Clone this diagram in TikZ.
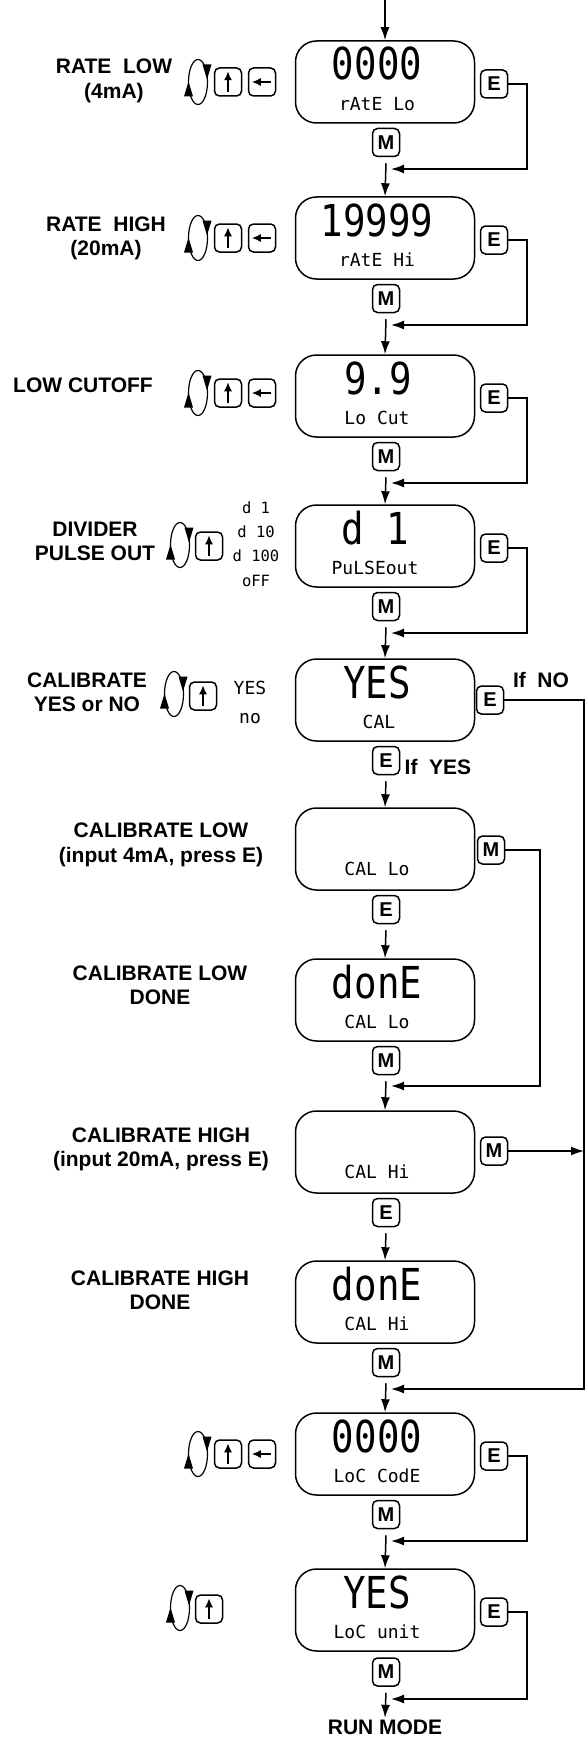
\documentclass[tikz,border=0pt]{standalone}
\usepackage{fontspec}
\setmainfont{Liberation Sans}
\newfontfamily\lcdfont{DejaVu Sans Mono}
\newfontfamily\lcdbigfont{DejaVu Sans Mono}[FakeStretch=0.85]
\usetikzlibrary{arrows.meta}

\begin{document}
\begin{tikzpicture}[x=1pt, y=-1pt, line width=1.5pt,
  >={Latex[length=13pt,width=9pt]},
  display/.style={draw, rounded corners=21pt, minimum width=179pt, minimum height=82pt, inner sep=0pt},
  bigtxt/.style={font=\lcdbigfont\fontsize{44}{44}\selectfont, inner sep=0pt, text height=32pt, text depth=0pt},
  smalltxt/.style={font=\lcdfont\fontsize{18}{18}\selectfont, inner sep=0pt, text height=13pt, text depth=0pt},
  opttxt/.style={font=\lcdfont\fontsize{15.5}{15.5}\selectfont, inner sep=0pt, text height=11pt, text depth=0pt},
  key/.style={draw, line width=1.5pt, rounded corners=5pt, minimum width=27pt, minimum height=28pt, inner sep=0pt, font=\bfseries\fontsize{20}{20}\selectfont},
  lbl/.style={font=\bfseries\fontsize{21}{24.5}\selectfont, align=center, inner sep=0pt},
  keyarrow/.style={line width=1.6pt, -{Latex[length=9pt,width=8pt]}},
  loopsym/.pic={
    \draw[line width=1.2pt] (0,0) ellipse [x radius=9.5pt, y radius=22.5pt];
    \fill (4.5,-17.5) -- (13.5,-17.5) -- (9,-2.5) -- cycle;
    \fill (-14,14.5) -- (-5,14.5) -- (-9.5,-0.5) -- cycle;
  }
]
  \useasboundingbox (0,0) rectangle (586,1739);

  % Rate low
  \node[lbl] (l1) at (114,81) {RATE~~LOW\\(4mA)};
  \pic at (198,82) {loopsym};
  \node[key] (u1) at (228,82) {};
  \draw[keyarrow] ([yshift=5pt]u1.south) -- ([yshift=-4pt]u1.north);
  \node[key] (b1) at (262,82) {};
  \draw[keyarrow] ([xshift=-5pt]b1.east) -- ([xshift=4pt]b1.west);
  \node[display] (d1) at (385,82) {};
  \node[bigtxt] (v1) at (377,64) {0000};
  \node[smalltxt] (t1) at (377,104) {rAtE Lo};
  \node[key] (e1) at (494,84) {E};
  \node[key] (m1) at (386,142.5) {M};
  \coordinate (start) at (385,0);
  \draw[->] (start) -- (d1.north);
  \coordinate (j1) at (527,169);
  \coordinate (r1) at (391,169);
  \draw[->] (e1.east) -| (j1) -- (r1);

  % Rate high
  \node[lbl] (l2) at (106,238.5) {RATE~~HIGH\\(20mA)};
  \pic at (198,238) {loopsym};
  \node[key] (u2) at (228,238) {};
  \draw[keyarrow] ([yshift=5pt]u2.south) -- ([yshift=-4pt]u2.north);
  \node[key] (b2) at (262,238) {};
  \draw[keyarrow] ([xshift=-5pt]b2.east) -- ([xshift=4pt]b2.west);
  \node[display] (d2) at (385,238) {};
  \node[bigtxt] (v2) at (377,220) {19999};
  \node[smalltxt] (t2) at (377,260) {rAtE Hi};
  \node[key] (e2) at (494,240) {E};
  \node[key] (m2) at (386,298.5) {M};
  \draw[->] ([yshift=-6pt]m1.south) -- (d2.north);
  \coordinate (j2) at (527,325);
  \coordinate (r2) at (391,325);
  \draw[->] (e2.east) -| (j2) -- (r2);

  % Low cutoff
  \node[lbl] (l3) at (83,385) {LOW CUTOFF};
  \pic at (198,393) {loopsym};
  \node[key] (u3) at (228,393) {};
  \draw[keyarrow] ([yshift=5pt]u3.south) -- ([yshift=-4pt]u3.north);
  \node[key] (b3) at (262,393) {};
  \draw[keyarrow] ([xshift=-5pt]b3.east) -- ([xshift=4pt]b3.west);
  \node[display] (d3) at (385,396) {};
  \node[bigtxt] (v3) at (378,378) {9.9};
  \node[smalltxt] (t3) at (377,418) {Lo Cut};
  \node[key] (e3) at (494,398) {E};
  \node[key] (m3) at (386,456.5) {M};
  \draw[->] ([yshift=-6pt]m2.south) -- (d3.north);
  \coordinate (j3) at (527,483);
  \coordinate (r3) at (391,483);
  \draw[->] (e3.east) -| (j3) -- (r3);

  % Divider pulse out
  \node[lbl] (l4) at (95,541.5) {DIVIDER\\PULSE OUT};
  \pic at (180,545) {loopsym};
  \node[key] (u4) at (209,546) {};
  \draw[keyarrow] ([yshift=5pt]u4.south) -- ([yshift=-4pt]u4.north);
  \node[opttxt] (o1) at (256,508) {d 1};
  \node[opttxt] (o2) at (256,532) {d 10};
  \node[opttxt] (o3) at (256,556) {d 100};
  \node[opttxt] (o4) at (256,581) {oFF};
  \node[display] (d4) at (385,546) {};
  \node[bigtxt] (v4) at (375,528) {d 1};
  \node[smalltxt] (t4) at (375,568) {PuLSEout};
  \node[key] (e4) at (494,548) {E};
  \node[key] (m4) at (386,606.5) {M};
  \draw[->] ([yshift=-6pt]m3.south) -- (d4.north);
  \coordinate (j4) at (527,633);
  \coordinate (r4) at (391,633);
  \draw[->] (e4.east) -| (j4) -- (r4);

  % Calibrate yes or no
  \node[lbl] (l5) at (87,692.5) {CALIBRATE\\YES or NO};
  \pic at (174,694) {loopsym};
  \node[key] (u5) at (203,696) {};
  \draw[keyarrow] ([yshift=5pt]u5.south) -- ([yshift=-4pt]u5.north);
  \node[smalltxt] (y5) at (250,688) {YES};
  \node[smalltxt] (n5) at (250,717) {no};
  \node[display] (d5) at (385,700) {};
  \node[bigtxt] (v5) at (377,682) {YES};
  \node[smalltxt] (t5) at (379,722) {CAL};
  \node[key] (e5) at (490,700) {E};
  \node[lbl] (no5) at (541,680) {If~~NO};
  \node[key] (k5) at (386,760.5) {E};
  \node[lbl] (yes5) at (438,767) {If~~YES};
  \draw[->] ([yshift=-6pt]m4.south) -- (d5.north);

  % Calibrate low
  \node[lbl] (l6) at (161,845) {CALIBRATE LOW\\(input 4mA, press E)};
  \node[display] (d6) at (385,849) {};
  \node[smalltxt] (t6) at (377,869) {CAL Lo};
  \node[key] (m6) at (491,850) {M};
  \node[key] (k6) at (386,909.5) {E};
  \draw[->] ([yshift=-6pt]k5.south) -- (d6.north);

  % Calibrate low done
  \node[lbl] (l7) at (160,985.5) {CALIBRATE LOW\\DONE};
  \node[display] (d7) at (385,1000) {};
  \node[bigtxt] (v7) at (377,982) {donE};
  \node[smalltxt] (t7) at (377,1022) {CAL Lo};
  \node[key] (m7) at (386,1060.5) {M};
  \draw[->] ([yshift=-6pt]k6.south) -- (d7.north);
  \coordinate (j6) at (540,1086);
  \coordinate (r6) at (391,1086);
  \draw[->] (m6.east) -| (j6) -- (r6);

  % Calibrate high
  \node[lbl] (l8) at (161,1149.5) {CALIBRATE HIGH\\(input 20mA, press E)};
  \node[display] (d8) at (385,1152) {};
  \node[smalltxt] (t8) at (377,1172) {CAL Hi};
  \node[key] (m8) at (494,1151) {M};
  \node[key] (k8) at (386,1212.5) {E};
  \draw[->] ([yshift=-6pt]m7.south) -- (d8.north);

  % Calibrate high done
  \node[lbl] (l9) at (160,1290.5) {CALIBRATE HIGH\\DONE};
  \node[display] (d9) at (385,1302) {};
  \node[bigtxt] (v9) at (377,1284) {donE};
  \node[smalltxt] (t9) at (377,1324) {CAL Hi};
  \node[key] (m9) at (386,1362.5) {M};
  \draw[->] ([yshift=-6pt]k8.south) -- (d9.north);

  % If NO / M from calibrate high
  \coordinate (jno) at (584,1389);
  \coordinate (r9) at (391,1389);
  \draw[->] (e5.east) -| (jno) -- (r9);
  \draw[->] (m8.east) -- (m8.east -| jno);

  % Lock code
  \pic at (198,1454) {loopsym};
  \node[key] (u10) at (228,1454) {};
  \draw[keyarrow] ([yshift=5pt]u10.south) -- ([yshift=-4pt]u10.north);
  \node[key] (b10) at (262,1454) {};
  \draw[keyarrow] ([xshift=-5pt]b10.east) -- ([xshift=4pt]b10.west);
  \node[display] (d10) at (385,1454) {};
  \node[bigtxt] (v10) at (377,1436) {0000};
  \node[smalltxt] (t10) at (377,1476) {LoC CodE};
  \node[key] (e10) at (494,1456) {E};
  \node[key] (m10) at (386,1514.5) {M};
  \draw[->] ([yshift=-6pt]m9.south) -- (d10.north);
  \coordinate (j10) at (527,1541);
  \coordinate (r10) at (391,1541);
  \draw[->] (e10.east) -| (j10) -- (r10);

  % Lock unit
  \pic at (180,1608) {loopsym};
  \node[key] (u11) at (209,1609) {};
  \draw[keyarrow] ([yshift=5pt]u11.south) -- ([yshift=-4pt]u11.north);
  \node[display] (d11) at (385,1610) {};
  \node[bigtxt] (v11) at (377,1592) {YES};
  \node[smalltxt] (t11) at (377,1632) {LoC unit};
  \node[key] (e11) at (494,1612) {E};
  \node[key] (m11) at (386,1672) {M};
  \draw[->] ([yshift=-6pt]m10.south) -- (d11.north);
  \coordinate (j11) at (527,1699);
  \coordinate (r11) at (391,1699);
  \draw[->] (e11.east) -| (j11) -- (r11);

  % Run mode
  \node[lbl] (run) at (385,1727) {RUN MODE};
  \draw[->] ([yshift=-6pt]m11.south) -- ([yshift=1pt]run.north);
\end{tikzpicture}
\end{document}
